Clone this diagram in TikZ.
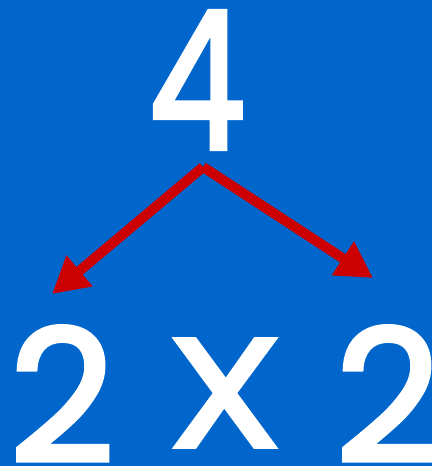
\documentclass[tikz,border=0pt]{standalone}
\usepackage{fontspec}
\newfontfamily\digitfont{Poppins}[FakeBold=2.5]
\usetikzlibrary{arrows.meta}
\definecolor{bgblue}{HTML}{0066CC}
\definecolor{arrred}{HTML}{CC0000}
\begin{document}
\begin{tikzpicture}[x=1pt,y=-1pt,
  digit/.style={text=white,inner sep=0pt,font=\fontsize{184}{184}\digitfont},
  cross/.style={text=white,inner sep=0pt,font=\fontsize{155}{155}\digitfont},
  redarrow/.style={draw=arrred,line width=10pt,-{Triangle[length=36pt,width=38pt]}}]
\fill[bgblue] (0,0) rectangle (432,466);
\useasboundingbox (0,0) rectangle (432,466);
\node[digit,xscale=0.8,font=\fontsize{192}{192}\digitfont] (four) at (197,80) {4};
\coordinate (o) at (203,167);
\coordinate (l) at (52,294);
\coordinate (r) at (373,278);
\draw[redarrow] (o) -- (l);
\draw[redarrow] (o) -- (r);
\node[digit] (twoa) at (62,394) {2};
\node[cross,xscale=1.2] (x) at (225,393) {X};
\node[digit] (twob) at (388,394) {2};
\end{tikzpicture}
\end{document}
